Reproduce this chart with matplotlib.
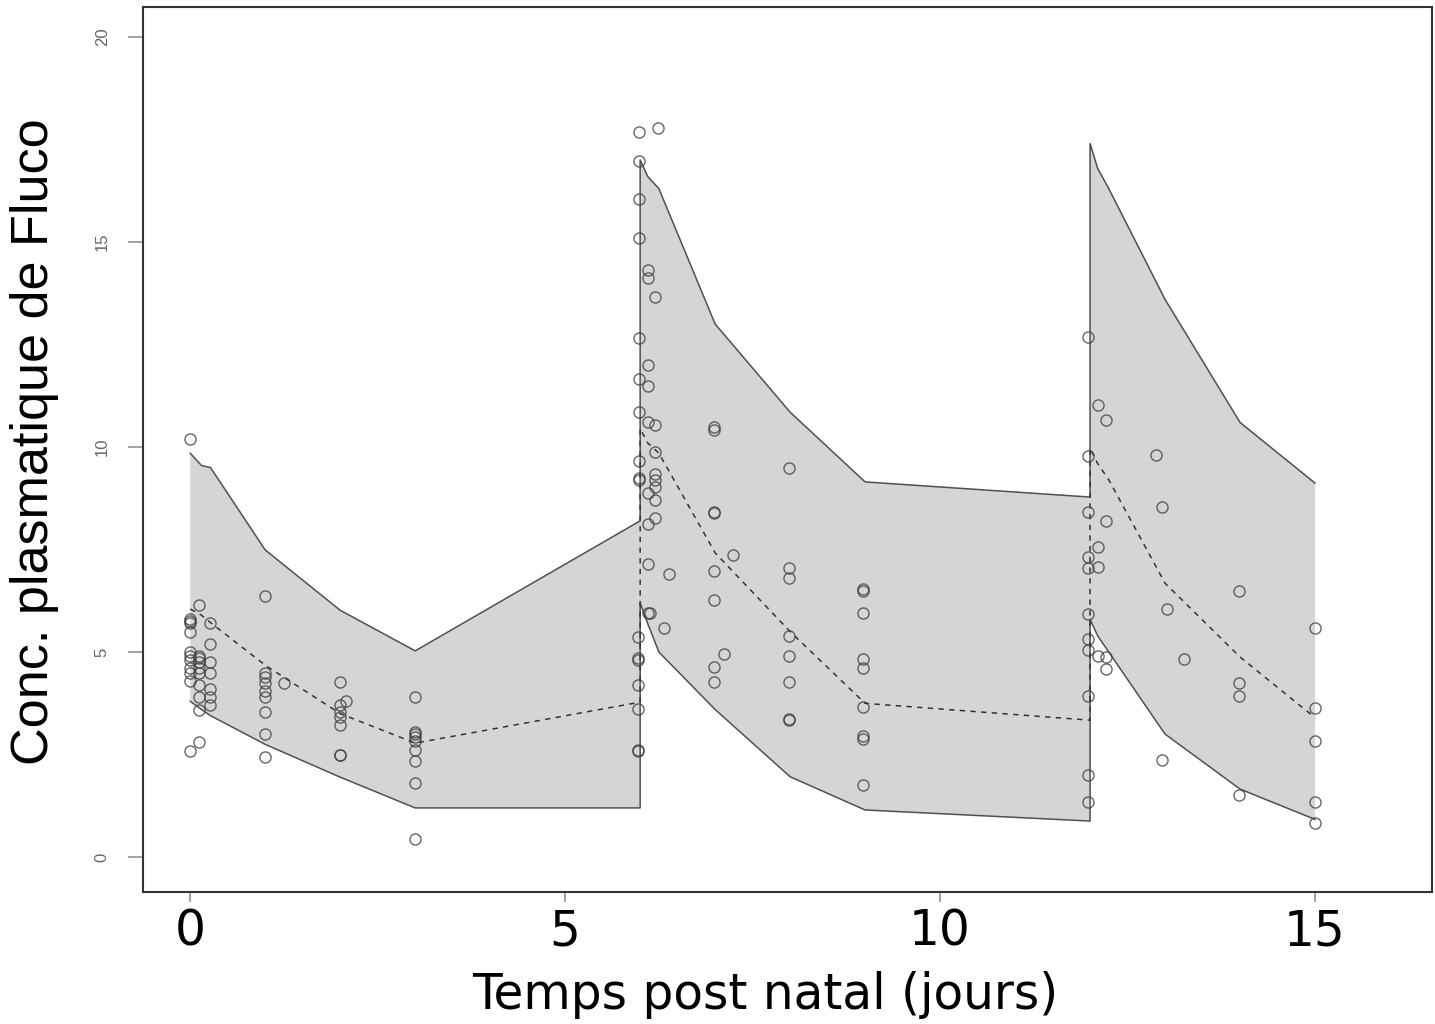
import matplotlib
matplotlib.use("Agg")
import matplotlib.pyplot as plt
import numpy as np

# prediction band (3 dosing intervals, joined into one polyline)
band_t = [0, 0.15, 0.27, 1, 2, 3, 6,
          6, 6.1, 6.25, 7, 8, 9, 12,
          12, 12.1, 12.25, 13, 14, 15]
band_hi = [9.85, 9.55, 9.5, 7.49, 6.02, 5.03, 8.2,
           17.0, 16.6, 16.3, 13.0, 10.85, 9.15, 8.78,
           17.4, 16.8, 16.3, 13.6, 10.6, 9.12]
band_lo = [3.8, 3.6, 3.45, 2.75, 1.95, 1.2, 1.2,
           6.2, 5.7, 5.0, 3.6, 1.96, 1.15, 0.88,
           5.8, 5.4, 5.0, 3.0, 1.66, 0.92]
median = [6.05, 5.9, 5.72, 4.68, 3.5, 2.78, 3.78,
          10.45, 10.1, 9.85, 7.42, 5.5, 3.75, 3.34,
          9.98, 9.6, 9.2, 6.68, 4.88, 3.4]

# observed concentrations, grouped by sampling time
obs = [
    (0.0, [10.2, 5.8, 5.75, 5.7, 5.5, 5.0, 4.9, 4.8, 4.6, 4.5, 4.3, 2.6]),
    (0.12, [6.15, 4.9, 4.85, 4.75, 4.6, 4.5, 4.2, 3.9, 3.6, 2.8]),
    (0.27, [5.7, 5.2, 4.75, 4.5, 4.1, 3.9, 3.7]),
    (1.0, [6.37, 4.5, 4.4, 4.25, 4.05, 3.9, 3.55, 3.0, 2.45]),
    (1.25, [4.25]),
    (2.0, [4.28, 3.7, 3.55, 3.42, 3.22, 2.5, 2.48]),
    (2.08, [3.8]),
    (3.0, [3.9, 3.06, 3.0, 2.94, 2.82, 2.62, 2.35, 1.8, 0.45]),
    (5.97, [5.37, 4.85, 4.8, 4.2, 3.62, 2.62, 2.6]),
    (6.13, [5.95]),
    (5.98, [17.67, 16.98, 16.06, 15.09, 12.65, 11.67, 10.86, 9.66, 9.25, 9.2]),
    (6.24, [17.79]),
    (6.11, [14.32, 14.11, 12.0, 11.5, 10.62, 8.89, 8.12, 7.16, 5.96]),
    (6.2, [13.67, 10.54, 9.89, 9.34, 9.2, 9.03, 8.71, 8.26]),
    (6.39, [6.9]),
    (6.32, [5.59]),
    (6.98, [10.5, 10.42, 8.42, 8.38, 6.98, 6.28, 4.64, 4.28]),
    (7.24, [7.36]),
    (7.12, [4.95]),
    (7.99, [9.48, 7.05, 6.8, 5.4, 4.91, 4.28, 3.38, 3.35]),
    (8.97, [6.53, 6.48, 5.96, 4.84, 4.6, 3.67, 2.95, 2.88, 1.76]),
    (11.97, [12.68, 9.78, 8.42, 7.32, 7.05, 5.94, 5.33, 5.05, 3.93, 2.0, 1.35]),
    (12.1, [11.02, 7.57, 7.08, 4.9]),
    (12.21, [10.67, 8.2, 4.87, 4.58]),
    (12.88, [9.8]),
    (12.96, [8.55, 2.37]),
    (13.02, [6.05]),
    (13.25, [4.83]),
    (13.98, [6.5, 4.24, 3.93, 1.51]),
    (15.0, [5.59, 3.63, 2.83, 1.34, 0.83]),
]

x_ticks = [0, 5, 10, 15]
y_ticks = [0, 5, 10, 15, 20]

obs_t = [t for t, ys in obs for _ in ys]
obs_c = [c for _, ys in obs for c in ys]

fig = plt.figure(figsize=(14.35, 10.24), dpi=100)
ax = fig.add_axes([143 / 1435, 1 - 892 / 1024, 1289 / 1435, 885 / 1024])

ax.fill_between(band_t, band_lo, band_hi, facecolor="#d5d5d5", edgecolor="none", zorder=1)
ax.plot(band_t, band_hi, color="#505050", lw=1.1, zorder=2)
ax.plot(band_t, band_lo, color="#505050", lw=1.1, zorder=2)
ax.plot(band_t, median, color="#333333", lw=1.1, ls=(0, (3.5, 3.5)), zorder=3)
ax.plot(obs_t, obs_c, ls="none", marker="o", ms=8, mfc="none",
        mec="#404040", mew=1.0, alpha=0.8, zorder=4)

ax.set_xlim(-0.63, 16.56)
ax.set_ylim(-0.85, 20.73)

ax.set_xticks(x_ticks)
ax.set_yticks(y_ticks)
ax.tick_params(axis="x", length=7.5, width=1.1, color="#888888", pad=4,
               labelsize=35, labelcolor="black")
ax.tick_params(axis="y", length=11, width=1.1, color="#888888", pad=13,
               labelsize=12, labelcolor="#666666", labelrotation=90)
for lab in ax.get_xticklabels():
    lab.set_family("DejaVu Sans")
for lab in ax.get_yticklabels():
    lab.set_family(["Liberation Sans", "DejaVu Sans"])
    lab.set_va("center")

for sp in ax.spines.values():
    sp.set_linewidth(1.5)
    sp.set_color("#333333")

fig.text(765 / 1435, 1 - 995 / 1024, "Temps post natal (jours)", ha="center", va="center",
         fontsize=35, family="DejaVu Sans")
fig.text(35 / 1435, 1 - 442 / 1024, "Conc. plasmatique de Fluco", rotation=90,
         ha="center", va="center", fontsize=37.5, family=["Liberation Sans", "DejaVu Sans"])

fig.savefig("out.png", dpi=100)
